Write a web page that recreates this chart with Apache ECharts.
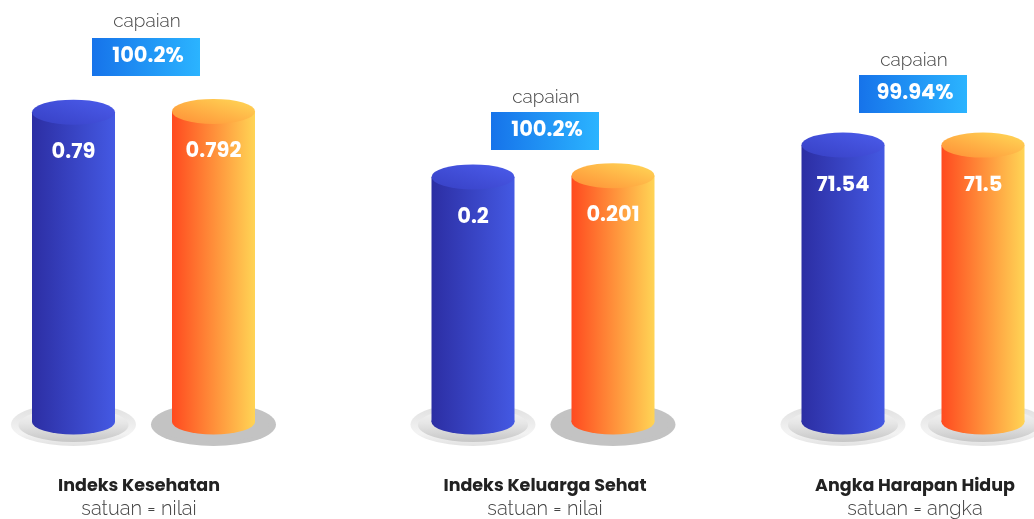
<!DOCTYPE html>
<html>
<head>
<meta charset="utf-8">
<script src="https://cdn.jsdelivr.net/npm/echarts@6/dist/echarts.min.js"></script>
<style>
html,body{margin:0;padding:0;background:#fff;}
#main{width:1034px;height:519px;}
</style>
</head>
<body>
<div id="main"></div>
<script>
// data indikator
var indikator = ['Indeks Kesehatan', 'Indeks Keluarga Sehat', 'Angka Harapan Hidup'];
var satuan = ['satuan = nilai', 'satuan = nilai', 'satuan = angka'];
var target = [0.79, 0.2, 71.54];
var realisasi = [0.792, 0.201, 71.5];
var capaian = ['100.2%', '100.2%', '99.94%'];
var axisMax = [1.025, 0.328, 103.8];

var chart = echarts.init(document.getElementById('main'));
var LG = echarts.graphic.LinearGradient;

var gridLeft = [3.5, 403, 773];
var textCenter = [139, 545, 915];
var capaianY = [21, 97, 60];
var boxLeft = [92, 491, 859];
var boxTop = [38, 112, 75];
var boldFont = 'Poppins, Inter, "DejaVu Sans", sans-serif';
var lightFont = 'Raleway, Lato, "Open Sans", sans-serif';

function bodyColor(i) {
  return i === 0
    ? new LG(0, 0, 1, 0, [{offset: 0, color: '#2c2ea3'}, {offset: 1, color: '#4459e3'}])
    : new LG(0, 0, 1, 0, [{offset: 0, color: '#ff4a1f'}, {offset: 1, color: '#ffd455'}]);
}
function topColor(i) {
  return i === 0
    ? new LG(0, 1, 1, 0, [{offset: 0, color: '#3740c4'}, {offset: 1, color: '#4b5ceb'}])
    : new LG(0, 1, 1, 0, [{offset: 0, color: '#ff8e36'}, {offset: 1, color: '#ffd957'}]);
}

var grids = [], xAxes = [], yAxes = [], series = [], graphics = [];

indikator.forEach(function (name, g) {
  var vals = [target[g], realisasi[g]];
  var reached = realisasi[g] >= target[g];
  grids.push({left: gridLeft[g], width: 280, top: 20, bottom: 97, outerBoundsMode: 'none'});
  xAxes.push({type: 'category', gridIndex: g, data: ['target', 'realisasi'], show: false});
  yAxes.push({type: 'value', gridIndex: g, min: 0, max: axisMax[g], show: false});

  // piring bawah (luar)
  series.push({
    type: 'pictorialBar', xAxisIndex: g, yAxisIndex: g, symbol: 'circle',
    symbolSize: [125, 43], symbolPosition: 'start', symbolOffset: [0, 24], z: 1, silent: true,
    data: vals.map(function (v, i) {
      var flat = (i === 1 && reached);
      return {value: v, itemStyle: {color: flat ? '#c3c3c3'
        : new LG(0, 0, 0, 1, [{offset: 0, color: '#dedede'}, {offset: 0.7, color: '#f3f3f3'}, {offset: 1, color: '#e2e2e2'}])}};
    })
  });
  // piring bawah (dalam)
  series.push({
    type: 'pictorialBar', xAxisIndex: g, yAxisIndex: g, symbol: 'circle',
    symbolSize: [110, 34], symbolPosition: 'start', symbolOffset: [0, 20], z: 2, silent: true,
    data: vals.map(function (v, i) {
      var flat = (i === 1 && reached);
      return {value: v, itemStyle: {color: flat ? '#c3c3c3'
        : new LG(0, 0, 0, 1, [{offset: 0, color: '#f6f6f6'}, {offset: 0.45, color: '#e6e6e6'}, {offset: 1, color: '#c6c6c6'}])}};
    })
  });
  // badan silinder
  series.push({
    type: 'bar', xAxisIndex: g, yAxisIndex: g, barWidth: 83, z: 3, silent: true,
    data: vals.map(function (v, i) {
      return {value: v, itemStyle: {color: bodyColor(i)}};
    }),
    label: {
      show: true, position: 'insideTop', distance: 30, color: '#fff',
      fontFamily: boldFont, fontWeight: 'bold', fontSize: 21
    }
  });
  // dasar silinder
  series.push({
    type: 'pictorialBar', xAxisIndex: g, yAxisIndex: g, symbol: 'circle',
    symbolSize: [83, 25], symbolPosition: 'start', symbolOffset: [0, 12.5], z: 2, silent: true,
    data: vals.map(function (v, i) {
      return {value: v, itemStyle: {color: bodyColor(i)}};
    })
  });
  // tutup silinder
  series.push({
    type: 'pictorialBar', xAxisIndex: g, yAxisIndex: g, symbol: 'circle',
    symbolSize: [83, 25], symbolPosition: 'end', symbolOffset: [0, -12.5], z: 4, silent: true,
    data: vals.map(function (v, i) {
      return {value: v, itemStyle: {color: topColor(i)}};
    })
  });

  // label capaian
  graphics.push({
    type: 'text', x: boxLeft[g] + 55, y: capaianY[g],
    style: {text: 'capaian', fill: '#444', font: '300 19px ' + lightFont, align: 'center', verticalAlign: 'middle'}
  });
  graphics.push({
    type: 'group', x: boxLeft[g], y: boxTop[g],
    children: [
      {type: 'rect', shape: {x: 0, y: 0, width: 108, height: 38},
        style: {fill: new LG(0, 0, 1, 0, [{offset: 0, color: '#1673ea'}, {offset: 1, color: '#2bb4ff'}])}},
      {type: 'text', x: 56, y: 19,
        style: {text: capaian[g], fill: '#fff', font: 'bold 21px ' + boldFont, align: 'center', verticalAlign: 'middle'}}
    ]
  });
  // judul bawah
  graphics.push({
    type: 'text', x: textCenter[g], y: 487,
    style: {text: name, fill: '#222', font: 'bold 17.5px ' + boldFont, align: 'center', verticalAlign: 'middle'}
  });
  graphics.push({
    type: 'text', x: textCenter[g], y: 509,
    style: {text: satuan[g], fill: '#444', font: '300 20px ' + lightFont, align: 'center', verticalAlign: 'middle'}
  });
});

chart.setOption({
  backgroundColor: '#fff',
  animation: false,
  grid: grids,
  xAxis: xAxes,
  yAxis: yAxes,
  series: series,
  graphic: graphics
});
</script>
</body>
</html>
